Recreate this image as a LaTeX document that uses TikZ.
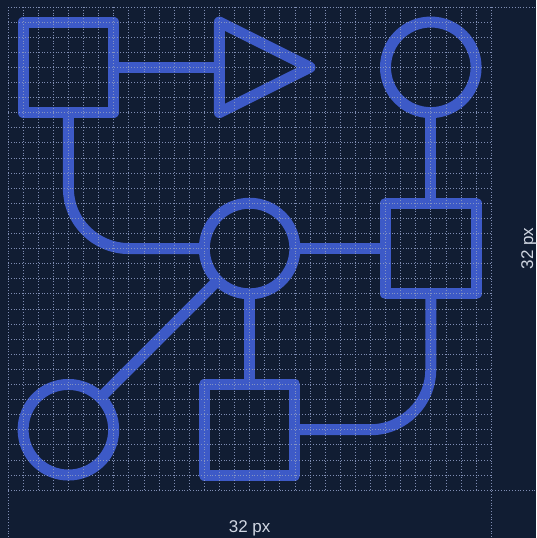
\documentclass[tikz,border=0pt]{standalone}
\usepackage{fontspec}
\setmainfont{Liberation Sans}
\definecolor{bg}{HTML}{111D33}
\definecolor{stroke}{HTML}{3D5AC7}
\definecolor{gridc}{HTML}{8B9AC2}
\definecolor{labelc}{HTML}{D0D6E2}

\begin{document}
\begin{tikzpicture}[x=15.1pt, y=-15.1pt,
  icon/.style={draw=stroke, line width=11pt, line join=round},
  sq/.style={icon, rectangle, minimum size=90.6pt, inner sep=0pt, outer sep=0pt},
  circ/.style={icon, circle, minimum size=90.6pt, inner sep=0pt, outer sep=0pt},
  wire/.style={draw=stroke, line width=11pt},
  guide/.style={draw=gridc, line width=0.8pt, dotted},
  lbl/.style={text=labelc, font=\fontsize{17}{20}\selectfont}]
\fill[bg] (-0.53,-0.46) rectangle (34.97,35.17);
\useasboundingbox (-0.53,-0.46) rectangle (34.97,35.17);
% shapes
\node[sq] (src) at (4,4) {};
\node[circ] (ring) at (28,4) {};
\node[circ] (hub) at (16,16) {};
\node[sq] (relay) at (28,16) {};
\node[circ] (leaf) at (4,28) {};
\node[sq] (sink) at (16,28) {};
\draw[icon] (14,1) -- (20,4) -- (14,7) -- cycle;
\coordinate (tri) at (14,4);
% wires
\draw[wire] (src) -- (tri);
\draw[wire] (ring) -- (relay);
\draw[wire] (hub) -- (relay);
\draw[wire] (hub) -- (sink);
\draw[wire] (leaf) -- (hub);
\draw[wire, rounded corners=60.4pt] (src.south) |- (hub.west);
\draw[wire, rounded corners=60.4pt] (relay.south) |- (sink.east);
% grid
\begin{scope}[opacity=0.9]
\foreach \i in {1,...,31} {
  \draw[guide] (\i,0) -- (\i,32);
  \draw[guide] (0,\i) -- (32,\i);
}
\draw[guide] (0,0) -- (0,35.17);
\draw[guide] (32,0) -- (32,35.17);
\draw[guide] (0,0) -- (34.97,0);
\draw[guide] (0,32) -- (34.97,32);
\end{scope}
\node[lbl] (wlabel) at (16,34.5) {32 px};
\node[lbl, rotate=90] (hlabel) at (34.5,16) {32 px};
\end{tikzpicture}
\end{document}
